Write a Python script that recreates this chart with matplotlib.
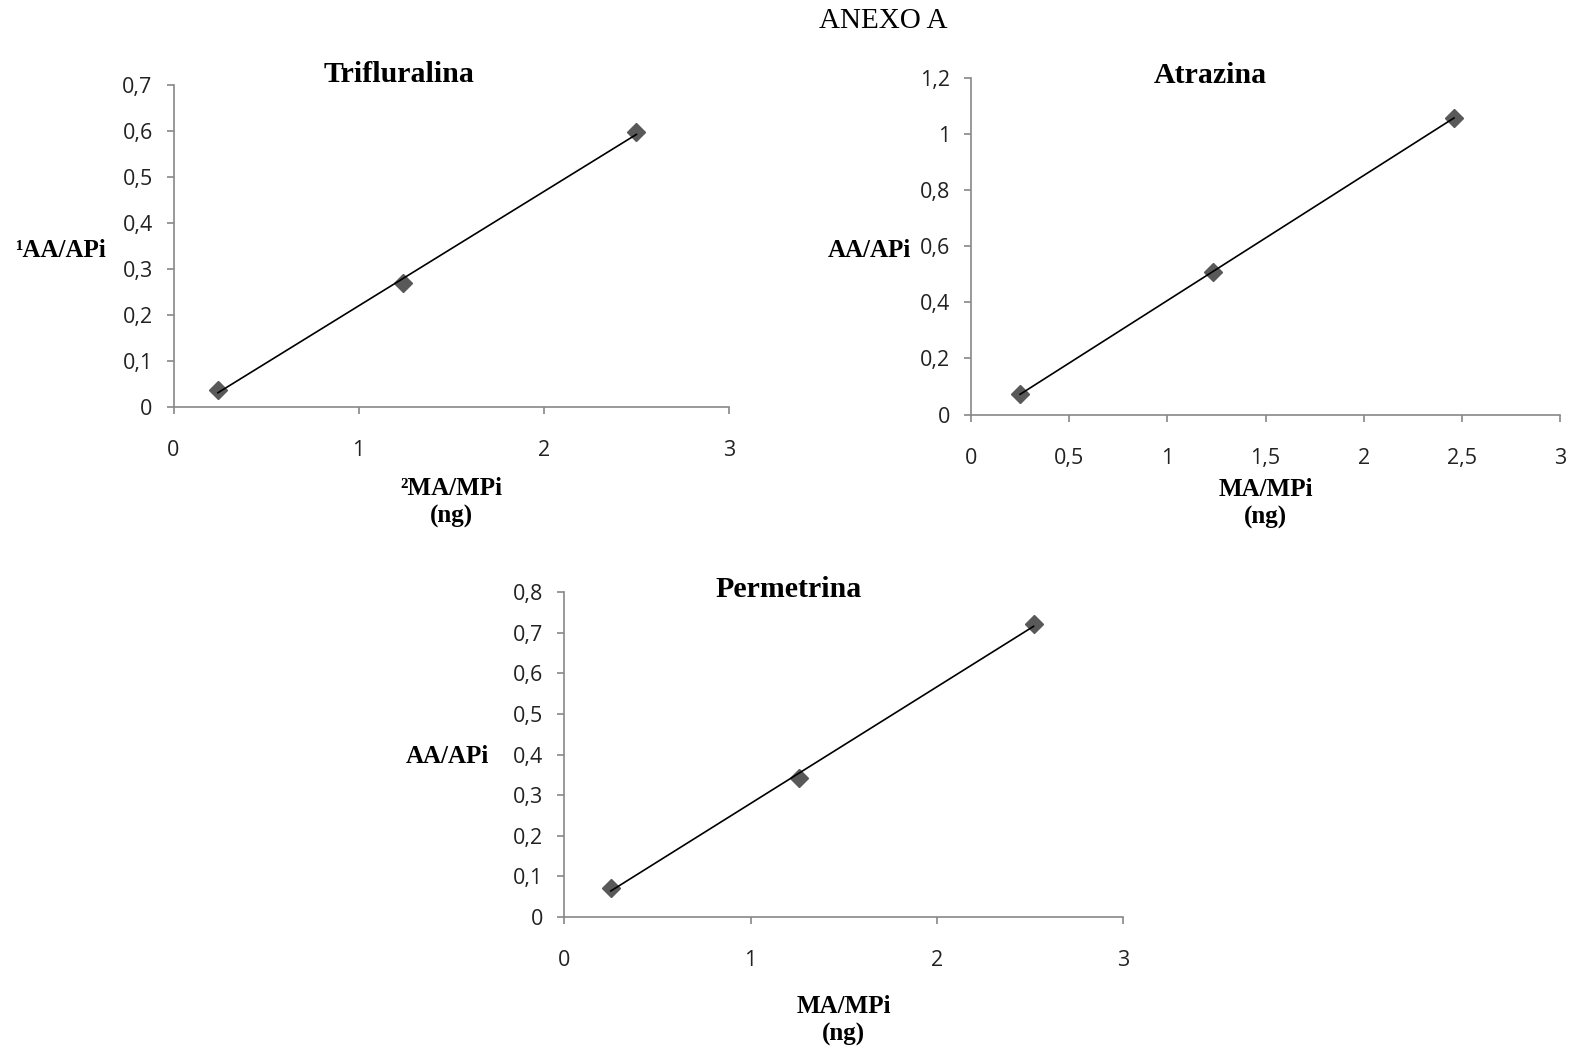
import numpy as np
import matplotlib
matplotlib.use("Agg")
import matplotlib.pyplot as plt
from matplotlib.ticker import FuncFormatter, MultipleLocator

# Calibration data: analyte mass ratio (ng) vs. area ratio
trif_x = [0.24, 1.24, 2.50]
trif_y = [0.036, 0.269, 0.597]

atra_x = [0.25, 1.235, 2.46]
atra_y = [0.074, 0.508, 1.06]

perm_x = [0.25, 1.26, 2.52]
perm_y = [0.071, 0.341, 0.722]

titles = ["Trifluralina", "Atrazina", "Permetrina"]
ylabels = ["\u00b9AA/APi", "AA/APi", "AA/APi"]
xlabels = ["\u00b2MA/MPi", "MA/MPi", "MA/MPi"]
unit_label = "(ng)"
page_title = "ANEXO A"

W, H = 1575, 1047
SERIF = ["Liberation Serif", "DejaVu Serif"]
TICKFONT = ["Open Sans", "DejaVu Sans"]
AXIS_GRAY = "#888888"
MARKER_GRAY = "#595959"

fig = plt.figure(figsize=(W / 100, H / 100), dpi=100)


def fx(px):
    return px / W


def fy(py):
    return 1 - py / H


def comma_fmt(v, _pos):
    return ("%g" % round(v, 6)).replace(".", ",")


def make_panel(box, xs, ys, ymax, ystep, xstep, title, title_xy,
               ylabel, ylabel_xy, xlabel, xlabel_y):
    left, top, right, bottom = box
    ax = fig.add_axes([fx(left), fy(bottom), fx(right - left), (bottom - top) / H])
    ax.set_xlim(0, 3)
    ax.set_ylim(0, ymax)
    ax.xaxis.set_major_locator(MultipleLocator(xstep))
    ax.yaxis.set_major_locator(MultipleLocator(ystep))
    ax.xaxis.set_major_formatter(FuncFormatter(comma_fmt))
    ax.yaxis.set_major_formatter(FuncFormatter(comma_fmt))
    for side in ("top", "right"):
        ax.spines[side].set_visible(False)
    for side in ("left", "bottom"):
        ax.spines[side].set_color(AXIS_GRAY)
        ax.spines[side].set_linewidth(1.2)
    ax.tick_params(axis="both", direction="out", length=5, width=1.2,
                   color=AXIS_GRAY, labelsize=15.5, labelcolor="#222222")
    ax.tick_params(axis="x", pad=19)
    ax.tick_params(axis="y", pad=10)
    for lab in ax.get_xticklabels() + ax.get_yticklabels():
        lab.set_fontfamily(TICKFONT)

    # data points
    ax.plot(xs, ys, linestyle="none", marker="D", markersize=9.5,
            color=MARKER_GRAY, markeredgecolor=MARKER_GRAY, zorder=3,
            clip_on=False)
    # linear trend line across the calibration range
    slope, intercept = np.polyfit(xs, ys, 1)
    xr = np.array([min(xs), max(xs)])
    ax.plot(xr, slope * xr + intercept, color="black", linewidth=1.2, zorder=4)

    fig.text(fx(title_xy[0]), fy(title_xy[1]), title, ha="center",
             va="baseline", fontsize=21.5, fontweight="bold", family=SERIF)
    fig.text(fx(ylabel_xy[0]), fy(ylabel_xy[1]), ylabel, ha="right",
             va="baseline", fontsize=18, fontweight="bold", family=SERIF)
    cx = (left + right) / 2
    fig.text(fx(cx), fy(xlabel_y), xlabel, ha="center", va="baseline",
             fontsize=18, fontweight="bold", family=SERIF)
    fig.text(fx(cx), fy(xlabel_y + 28), unit_label, ha="center", va="baseline",
             fontsize=18, fontweight="bold", family=SERIF)
    return ax


make_panel((173.5, 85, 729, 406.7), trif_x, trif_y, 0.7, 0.1, 1,
           titles[0], (399, 81.7), ylabels[0], (106, 256.7),
           xlabels[0], 495)
make_panel((971, 78.3, 1560, 414.5), atra_x, atra_y, 1.2, 0.2, 0.5,
           titles[1], (1210.8, 83.3), ylabels[1], (911, 256.7),
           xlabels[1], 496)
make_panel((564.3, 592.3, 1123, 916.8), perm_x, perm_y, 0.8, 0.1, 1,
           titles[2], (789, 596.7), ylabels[2], (489, 763.3),
           xlabels[2], 1013)

fig.text(fx(883.3), fy(28.3), page_title, ha="center", va="baseline",
         fontsize=21, family=SERIF)

fig.savefig("out.png", dpi=100, facecolor="white")
